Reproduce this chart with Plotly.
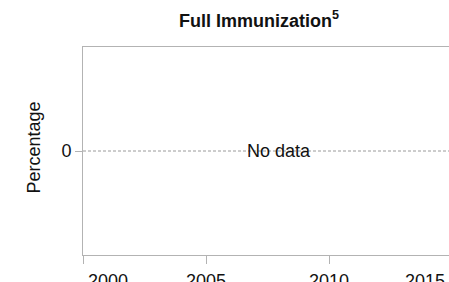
import plotly.graph_objects as go

# Data
title_text = "Full Immunization"
title_note = "5"
y_label = "Percentage"
years = [2000, 2005, 2010, 2015]
values = []          # no data available
y_ticks = [0]
empty_message = "No data"

FONT = "Liberation Sans, Arial, Helvetica, sans-serif"
AX = "#b3b3b3"
FS = 18

fig = go.Figure()
fig.add_trace(go.Scatter(x=[], y=values, mode="lines"))

W, H = 449, 282
L, R, T, B = 83, 0, 47, 27

fig.update_layout(
    width=W, height=H,
    margin=dict(l=L, r=R, t=T, b=B, autoexpand=False),
    paper_bgcolor="white", plot_bgcolor="white",
    showlegend=False,
    font=dict(family=FONT, size=FS, color="#111"),
    xaxis=dict(
        range=[2000, 2014.87], tickvals=years, showticklabels=False,
        ticks="outside", ticklen=8, tickcolor=AX, tickwidth=1,
        showline=True, linecolor=AX, linewidth=1, mirror=True,
        showgrid=False, zeroline=False, fixedrange=True, automargin=False,
    ),
    yaxis=dict(
        range=[-1, 1], tickvals=y_ticks, ticktext=[str(v) for v in y_ticks],
        ticks="outside", ticklen=7, tickcolor=AX, tickwidth=1,
        tickfont=dict(size=FS, color="#111"),
        showline=True, linecolor=AX, linewidth=1,
        showgrid=False, zeroline=False, fixedrange=True, automargin=False,
    ),
)

# dashed zero reference line
fig.add_shape(type="line", xref="paper", yref="y", x0=0, x1=1, y0=0, y1=0,
              line=dict(color="#9a9a9a", width=1, dash="3px,2px"))

# no data message
fig.add_annotation(text=empty_message, xref="paper", yref="y",
                   x=(279.4 - L) / (W - L), y=0, showarrow=False,
                   xanchor="center", yanchor="middle",
                   font=dict(size=FS, color="#111"))

# title
fig.add_annotation(text=f"<b>{title_text}<sup>{title_note}</sup></b>",
                   xref="paper", yref="paper",
                   x=(258.7 - L) / (W - L), y=1, yshift=14,
                   showarrow=False, xanchor="center", yanchor="bottom",
                   font=dict(size=FS, color="#111"))

# y axis title
fig.add_annotation(text=y_label, xref="paper", yref="paper",
                   x=0, xshift=-(L - 33.5), y=0.5, yshift=3, textangle=-90,
                   showarrow=False, xanchor="center", yanchor="middle",
                   font=dict(size=FS, color="#111"))

# x tick labels (edge labels kept inside the visible frame)
for i, yr in enumerate(years):
    if i == 0:
        fig.add_annotation(text=str(yr), xref="x", yref="paper", x=yr, xshift=3,
                           y=0, yshift=-14, xanchor="left", yanchor="top",
                           showarrow=False, font=dict(size=FS, color="#111"))
    elif i == len(years) - 1:
        fig.add_annotation(text=str(yr), xref="paper", yref="paper", x=1, xshift=-2,
                           y=0, yshift=-14, xanchor="right", yanchor="top",
                           showarrow=False, font=dict(size=FS, color="#111"))
    else:
        fig.add_annotation(text=str(yr), xref="x", yref="paper", x=yr,
                           y=0, yshift=-14, xanchor="center", yanchor="top",
                           showarrow=False, font=dict(size=FS, color="#111"))

fig.write_html(
    "out.html",
    config=dict(displayModeBar=False),
    post_script="document.body.style.margin='0';document.body.style.overflow='hidden';",
)
